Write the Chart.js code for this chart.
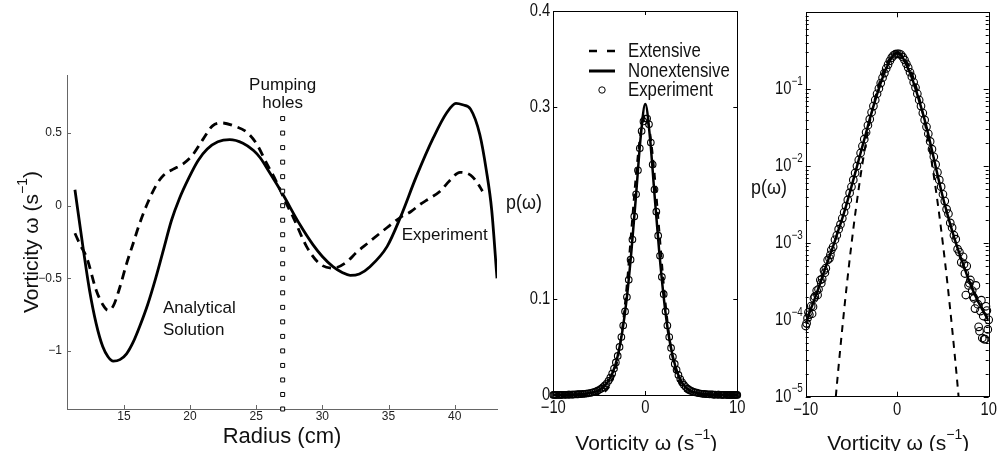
<!DOCTYPE html>
<html>
<head>
<meta charset="utf-8">
<script src="https://cdn.jsdelivr.net/npm/chart.js@4.4.0/dist/chart.umd.min.js"></script>
<style>
  html, body { margin: 0; padding: 0; background: #fff; }
  #wrap { position: relative; width: 1000px; height: 451px; overflow: hidden; }
  canvas { position: absolute; top: 0; }
</style>
</head>
<body>
<div id="wrap">
  <canvas id="radial" width="520" height="451" style="left:0"></canvas>
  <canvas id="pdfLin" width="250" height="451" style="left:500px"></canvas>
  <canvas id="pdfLog" width="250" height="451" style="left:750px"></canvas>
</div>
<script>
// Left panel: vorticity profile against radius
const analyticR = [11.3, 11.9, 12.4, 12.9, 13.4, 13.8, 14.2, 14.7, 15.2, 15.7, 16.2, 16.8, 17.4, 18.0, 18.6, 19.2, 19.9, 20.6, 21.3, 22.1, 23.0, 24.0, 24.8, 25.3, 26.0, 27.0, 28.3, 29.3, 30.0, 30.8, 31.5, 32.1, 32.8, 33.6, 34.9, 35.9, 37.1, 38.4, 39.4, 40.1, 40.6, 41.2, 41.9, 42.4, 42.8, 43.2];
const analyticW = [0.11, -0.28, -0.58, -0.81, -0.97, -1.04, -1.07, -1.06, -1.02, -0.94, -0.83, -0.68, -0.50, -0.30, -0.10, 0.05, 0.19, 0.31, 0.39, 0.44, 0.455, 0.43, 0.38, 0.33, 0.23, 0.08, -0.13, -0.27, -0.35, -0.42, -0.46, -0.48, -0.47, -0.42, -0.28, -0.08, 0.20, 0.47, 0.64, 0.705, 0.695, 0.665, 0.49, 0.24, -0.03, -0.50];
const measuredR = [11.3, 11.7, 12.2, 12.9, 13.4, 13.8, 14.2, 14.7, 15.2, 15.7, 16.2, 16.8, 17.5, 18.0, 18.7, 19.5, 20.2, 21.0, 21.7, 22.4, 23.3, 24.3, 25.0, 25.8, 26.5, 27.3, 27.8, 28.8, 29.8, 30.8, 31.8, 32.6, 33.4, 34.9, 35.9, 36.7, 37.4, 38.1, 38.9, 39.6, 40.4, 41.2, 41.7, 42.1];
const measuredW = [-0.19, -0.27, -0.36, -0.58, -0.68, -0.72, -0.69, -0.56, -0.40, -0.26, -0.12, 0.02, 0.15, 0.21, 0.25, 0.29, 0.35, 0.46, 0.55, 0.57, 0.55, 0.505, 0.43, 0.29, 0.17, 0.01, -0.08, -0.28, -0.40, -0.43, -0.39, -0.32, -0.26, -0.15, -0.08, -0.04, 0.01, 0.05, 0.10, 0.17, 0.23, 0.21, 0.16, 0.10];
const pumpHoleR = 27;
const pumpHoleW = [0.6, 0.5, 0.4, 0.3, 0.2, 0.1, 0, -0.1, -0.2, -0.3, -0.4, -0.5, -0.6, -0.7, -0.8, -0.9, -1.0, -1.1, -1.2, -1.3, -1.4];
const radiusTicks = [15, 20, 25, 30, 35, 40];
const vortTicks = [-1, -0.5, 0, 0.5];

// Right panels: vorticity PDF, linear and log
const pdfTicksX = [-10, 0, 10];
const linTicksY = [0, 0.1, 0.3, 0.4];
const logTicksY = [1e-5, 1e-4, 1e-3, 1e-2, 1e-1];
const fitX = [-10, -9.5, -9, -8.5, -8, -7.5, -7, -6.5, -6, -5.5, -5, -4.5, -4, -3.5, -3, -2.5, -2, -1.5, -1, -0.5, 0, 0.5, 1, 1.5, 2, 2.5, 3, 3.5, 4, 4.5, 5, 5.5, 6, 6.5, 7, 7.5, 8, 8.5, 9, 9.5, 10];
const extensiveP = [4e-11, 3.3e-10, 2.7e-9, 2.0e-8, 1.3e-7, 7.7e-7, 4.0e-6, 1.88e-5, 7.8e-5, 2.9e-4, 9.6e-4, 2.85e-3, 7.5e-3, 0.0177, 0.0372, 0.0696, 0.116, 0.174, 0.231, 0.274, 0.29, 0.274, 0.231, 0.174, 0.116, 0.0696, 0.0372, 0.0177, 7.5e-3, 2.85e-3, 9.6e-4, 2.9e-4, 7.8e-5, 1.88e-5, 4.0e-6, 7.7e-7, 1.3e-7, 2.0e-8, 2.7e-9, 3.3e-10, 4e-11];
const nonextensiveP = [8.9e-5, 1.32e-4, 1.9e-4, 2.8e-4, 4.2e-4, 6.2e-4, 9.1e-4, 1.38e-3, 2.09e-3, 3.3e-3, 5.4e-3, 8.9e-3, 0.0148, 0.0245, 0.0407, 0.066, 0.102, 0.151, 0.209, 0.269, 0.303, 0.269, 0.209, 0.151, 0.102, 0.0646, 0.0398, 0.0229, 0.0126, 6.9e-3, 3.9e-3, 2.34e-3, 1.45e-3, 9.3e-4, 6.2e-4, 4.2e-4, 2.9e-4, 2.1e-4, 1.58e-4, 1.23e-4, 9.8e-5];
const expX = [-10, -9.8, -9.6, -9.4, -9.2, -9, -8.8, -8.6, -8.4, -8.2,
  -8, -7.8, -7.6, -7.4, -7.2, -7, -6.8, -6.6, -6.4, -6.2,
  -6, -5.8, -5.6, -5.4, -5.2, -5, -4.8, -4.6, -4.4, -4.2,
  -4, -3.8, -3.6, -3.4, -3.2, -3, -2.8, -2.6, -2.4, -2.2,
  -2, -1.8, -1.6, -1.4, -1.2, -1, -0.8, -0.6, -0.4, -0.2,
  0,
  0.2, 0.4, 0.6, 0.8, 1, 1.2, 1.4, 1.6, 1.8, 2,
  2.2, 2.4, 2.6, 2.8, 3, 3.2, 3.4, 3.6, 3.8, 4,
  4.2, 4.4, 4.6, 4.8, 5, 5.2, 5.4, 5.6, 5.8, 6,
  6.2, 6.4, 6.6, 6.8, 7, 7.2, 7.4, 7.6, 7.8, 8,
  8.2, 8.4, 8.6, 8.8, 9, 9.2, 9.4, 9.6, 9.8, 10];
const expP = [8.3e-5, 1.05e-4, 1.17e-4, 1.51e-4, 1.48e-4, 2.0e-4, 2.4e-4, 2.5e-4, 3.3e-4, 3.4e-4,
  4.4e-4, 4.7e-4, 6.0e-4, 6.3e-4, 8.1e-4, 8.9e-4, 1.10e-3, 1.26e-3, 1.51e-3, 1.74e-3,
  2.09e-3, 2.51e-3, 3.02e-3, 3.63e-3, 4.47e-3, 5.37e-3, 6.61e-3, 8.13e-3, 0.0100, 0.0120,
  0.0148, 0.0182, 0.0224, 0.0275, 0.0339, 0.0407, 0.0501, 0.0603, 0.0724, 0.0871,
  0.102, 0.120, 0.141, 0.162, 0.186, 0.209, 0.234, 0.257, 0.275, 0.285,
  0.288,
  0.288, 0.282, 0.263, 0.240, 0.214, 0.191, 0.166, 0.145, 0.123, 0.105,
  0.0871, 0.0724, 0.0603, 0.0490, 0.0398, 0.0324, 0.0263, 0.0209, 0.0166, 0.0132,
  0.0105, 8.3e-3, 6.6e-3, 5.4e-3, 4.3e-3, 3.5e-3, 2.75e-3, 2.4e-3, 1.82e-3, 1.58e-3,
  1.26e-3, 1.12e-3, 8.3e-4, 7.6e-4, 5.6e-4, 6.6e-4, 4.0e-4, 5.0e-4, 2.8e-4, 3.3e-4,
  2.4e-4, 1.9e-4, 2.8e-4, 1.6e-4, 7.1e-5, 1.8e-4, 1.12e-4, 5.6e-5, 1.32e-4, 1.0e-4];
// extra scattered circles in the tails
const tailX = [-9.9, -9.7, -9.3, -9.1, -8.7, -8.3, -7.9, -7.3, 7.3, 7.5, 7.9, 8.3, 8.5, 8.9, 9.1, 9.3, 9.5, 9.7, 9.9];
const tailP = [9.0e-5, 1.25e-4, 1.2e-4, 1.9e-4, 2.1e-4, 3.0e-4, 4.1e-4, 7.0e-4, 5.3e-4, 2.1e-4, 3.0e-4, 2.0e-4, 1.4e-4, 8.1e-5, 1.3e-4, 5.8e-5, 5.6e-5, 1.5e-4, 7.5e-5];

const HELV = '"Liberation Sans", Arial, Helvetica, sans-serif';

const pts = (xs, ys) => xs.map((v, i) => ({ x: v, y: ys[i] }));
const minus = v => (v < 0 ? '\u2212' + Math.abs(v) : String(v));

// text with a raised exponent, squeezed horizontally to fake Helvetica Narrow
function supText(ctx, base, sup, tail, x, y, size, align, squeeze) {
  const supSize = Math.round(size * 0.68);
  ctx.save();
  ctx.translate(x, y);
  ctx.scale(squeeze || 1, 1);
  ctx.font = `${size}px ${HELV}`;
  const wb = ctx.measureText(base).width;
  const wt = ctx.measureText(tail).width;
  ctx.font = `${supSize}px ${HELV}`;
  const ws = sup ? ctx.measureText(sup).width : 0;
  const total = wb + ws + wt;
  const x0 = align === 'center' ? -total / 2 : align === 'right' ? -total : 0;
  ctx.textAlign = 'left';
  ctx.textBaseline = 'middle';
  ctx.font = `${size}px ${HELV}`;
  ctx.fillText(base, x0, 0);
  if (sup) {
    ctx.font = `${supSize}px ${HELV}`;
    ctx.fillText(sup, x0 + wb, -size * 0.42);
  }
  if (tail) {
    ctx.font = `${size}px ${HELV}`;
    ctx.fillText(tail, x0 + wb + ws, 0);
  }
  ctx.restore();
}
const label = (ctx, t, x, y, size, align, squeeze) => supText(ctx, t, '', '', x, y, size, align, squeeze);

// MATLAB style inward ticks, optional full box
const boxTicks = {
  id: 'boxTicks',
  afterDatasetsDraw(chart, args, opts) {
    const { ctx, chartArea: a, scales: { x, y } } = chart;
    ctx.save();
    ctx.strokeStyle = opts.color;
    ctx.lineWidth = 1;
    if (opts.box) {
      ctx.strokeRect(Math.round(a.left) + 0.5, Math.round(a.top) + 0.5,
        Math.round(a.right - a.left), Math.round(a.bottom - a.top));
    }
    const len = opts.len;
    ctx.beginPath();
    x.ticks.forEach(t => {
      const px = Math.round(x.getPixelForValue(t.value)) + 0.5;
      ctx.moveTo(px, a.bottom); ctx.lineTo(px, a.bottom - len);
      if (opts.box) { ctx.moveTo(px, a.top); ctx.lineTo(px, a.top + len); }
    });
    const yMarks = y.ticks.map(t => [t.value, len]).concat((opts.minorY || []).map(v => [v, len * 0.6]));
    yMarks.forEach(([v, l]) => {
      const py = Math.round(y.getPixelForValue(v)) + 0.5;
      ctx.moveTo(a.left, py); ctx.lineTo(a.left + l, py);
      if (opts.box) { ctx.moveTo(a.right, py); ctx.lineTo(a.right - l, py); }
    });
    ctx.stroke();
    ctx.restore();
  }
};

// ---------- Left panel ----------
const radialText = {
  id: 'radialText',
  afterDraw(chart) {
    const { ctx, scales: { x, y } } = chart;
    ctx.save();
    ctx.fillStyle = '#111';
    const px = x.getPixelForValue(pumpHoleR);
    label(ctx, 'Pumping', px, 85, 17, 'center');
    label(ctx, 'holes', px, 103, 17, 'center');
    label(ctx, 'Analytical', x.getPixelForValue(17.95), y.getPixelForValue(-0.705), 17, 'left');
    label(ctx, 'Solution', x.getPixelForValue(17.95), y.getPixelForValue(-0.855), 17, 'left');
    label(ctx, 'Experiment', x.getPixelForValue(36.0), y.getPixelForValue(-0.205), 17, 'left');
    label(ctx, 'Radius (cm)', 282, 437, 22, 'center');
    ctx.translate(32, 242);
    ctx.rotate(-Math.PI / 2);
    supText(ctx, 'Vorticity \u03c9 (s', '\u22121', ')', 0, 0, 21, 'center');
    ctx.restore();
  }
};

new Chart(document.getElementById('radial'), {
  type: 'scatter',
  data: {
    datasets: [
      { data: pumpHoleW.map(w => ({ x: pumpHoleR, y: w })), pointStyle: 'rect', pointRadius: 2.8,
        borderWidth: 1, borderColor: '#000', backgroundColor: '#fff', clip: false },
      { data: pts(analyticR, analyticW), showLine: true, borderColor: '#000', borderWidth: 2.8,
        pointRadius: 0, cubicInterpolationMode: 'monotone' },
      { data: pts(measuredR, measuredW), showLine: true, borderColor: '#000', borderWidth: 2.8,
        borderDash: [9, 6], pointRadius: 0, cubicInterpolationMode: 'monotone' }
    ]
  },
  options: {
    responsive: false, animation: false, devicePixelRatio: 1,
    layout: { padding: { top: 75, right: 23, left: 0, bottom: 0 } },
    plugins: {
      legend: { display: false }, tooltip: { enabled: false },
      boxTicks: { box: false, len: 4, color: '#666' }
    },
    scales: {
      x: {
        type: 'linear', min: 10.7, max: 43.2,
        afterBuildTicks: s => { s.ticks = radiusTicks.map(v => ({ value: v })); },
        afterFit: s => { s.height = 42; },
        grid: { display: false, drawTicks: false },
        border: { display: true, color: '#666', width: 1 },
        ticks: { font: { family: HELV, size: 12 }, color: '#222', padding: 0, maxRotation: 0, callback: v => minus(v) }
      },
      y: {
        type: 'linear', min: -1.4, max: 0.9,
        afterBuildTicks: s => { s.ticks = vortTicks.map(v => ({ value: v })); },
        afterFit: s => { s.width = 67; },
        grid: { display: false, drawTicks: false },
        border: { display: true, color: '#666', width: 1 },
        ticks: { font: { family: HELV, size: 12 }, color: '#222', padding: 5, callback: v => minus(v) }
      }
    }
  },
  plugins: [boxTicks, radialText]
});

// ---------- PDF panels ----------
const NS = 0.82; // narrow squeeze

function pdfAxisText(chart, yLabelAt) {
  const { ctx, chartArea: a, scales: { x } } = chart;
  ctx.fillStyle = '#111';
  x.ticks.forEach(t => label(ctx, minus(t.value), x.getPixelForValue(t.value), a.bottom + 13.5, 18, 'center', NS));
  label(ctx, 'p(\u03c9)', yLabelAt[0], yLabelAt[1], 21, 'center', 0.85);
  supText(ctx, 'Vorticity \u03c9 (s', '\u22121', ')', (a.left + a.right) / 2 + 1, 444, 21, 'center', 1);
}

const linText = {
  id: 'linText',
  afterDraw(chart) {
    const { ctx, chartArea: a, scales: { y } } = chart;
    ctx.save();
    pdfAxisText(chart, [24, 203]);
    y.ticks.forEach(t => label(ctx, String(t.value), a.left - 3, y.getPixelForValue(t.value), 18, 'right', NS));
    // legend
    ctx.strokeStyle = '#000';
    ctx.lineWidth = 2.5;
    ctx.beginPath();
    ctx.moveTo(89, 51); ctx.lineTo(97, 51);
    ctx.moveTo(107, 51); ctx.lineTo(115, 51);
    ctx.stroke();
    ctx.lineWidth = 3;
    ctx.beginPath();
    ctx.moveTo(89, 71); ctx.lineTo(115, 71);
    ctx.stroke();
    ctx.lineWidth = 1;
    ctx.beginPath();
    ctx.arc(102, 90, 3.2, 0, Math.PI * 2);
    ctx.stroke();
    label(ctx, 'Extensive', 128, 51, 21, 'left', 0.8);
    label(ctx, 'Nonextensive', 128, 71, 21, 'left', 0.8);
    label(ctx, 'Experiment', 128, 90, 21, 'left', 0.8);
    ctx.restore();
  }
};

const pdfDatasets = r => [
  { data: pts(fitX, nonextensiveP), showLine: true, borderColor: '#000', borderWidth: 2.5,
    pointRadius: 0, cubicInterpolationMode: 'monotone' },
  { data: pts(fitX, extensiveP), showLine: true, borderColor: '#000', borderWidth: 2,
    borderDash: [7, 6], pointRadius: 0, cubicInterpolationMode: 'monotone' },
  { data: pts(expX, expP).concat(pts(tailX, tailP)), pointStyle: 'circle', pointRadius: r,
    borderWidth: 1.1, borderColor: '#000', backgroundColor: 'rgba(255,255,255,0)', clip: false }
];

const pdfX = {
  type: 'linear', min: -10, max: 10,
  afterBuildTicks: s => { s.ticks = pdfTicksX.map(v => ({ value: v })); },
  grid: { display: false, drawTicks: false },
  border: { display: false },
  ticks: { display: false }
};

new Chart(document.getElementById('pdfLin'), {
  type: 'scatter',
  data: { datasets: pdfDatasets(3.3) },
  options: {
    responsive: false, animation: false, devicePixelRatio: 1,
    layout: { padding: { top: 11, right: 12.7, left: 0, bottom: 0 } },
    plugins: {
      legend: { display: false }, tooltip: { enabled: false },
      boxTicks: { box: true, len: 4, color: '#000' }
    },
    scales: {
      x: Object.assign({}, pdfX, { afterFit: s => { s.height = 56; } }),
      y: {
        type: 'linear', min: 0, max: 0.4,
        afterBuildTicks: s => { s.ticks = linTicksY.map(v => ({ value: v })); },
        afterFit: s => { s.width = 53.3; },
        grid: { display: false, drawTicks: false },
        border: { display: false },
        ticks: { display: false }
      }
    }
  },
  plugins: [boxTicks, linText]
});

const minorLog = [];
logTicksY.forEach(d => { for (let m = 2; m <= 9; m++) minorLog.push(m * d); });

const logText = {
  id: 'logText',
  afterDraw(chart) {
    const { ctx, chartArea: a, scales: { y } } = chart;
    ctx.save();
    pdfAxisText(chart, [19, 188]);
    logTicksY.forEach(v => {
      const exp = Math.round(Math.log10(v));
      supText(ctx, '10', '\u2212' + Math.abs(exp), '', a.left - 3, y.getPixelForValue(v), 18, 'right', NS);
    });
    ctx.restore();
  }
};

new Chart(document.getElementById('pdfLog'), {
  type: 'scatter',
  data: { datasets: pdfDatasets(3.8) },
  options: {
    responsive: false, animation: false, devicePixelRatio: 1,
    layout: { padding: { top: 12.3, right: 11.3, left: 0, bottom: 0 } },
    plugins: {
      legend: { display: false }, tooltip: { enabled: false },
      boxTicks: { box: true, len: 5, color: '#000', minorY: minorLog }
    },
    scales: {
      x: Object.assign({}, pdfX, { afterFit: s => { s.height = 54.3; } }),
      y: {
        type: 'logarithmic', min: 1e-5, max: 1,
        afterBuildTicks: s => { s.ticks = logTicksY.map(v => ({ value: v })); },
        afterFit: s => { s.width = 55.7; },
        grid: { display: false, drawTicks: false },
        border: { display: false },
        ticks: { display: false }
      }
    }
  },
  plugins: [boxTicks, logText]
});
</script>
</body>
</html>
